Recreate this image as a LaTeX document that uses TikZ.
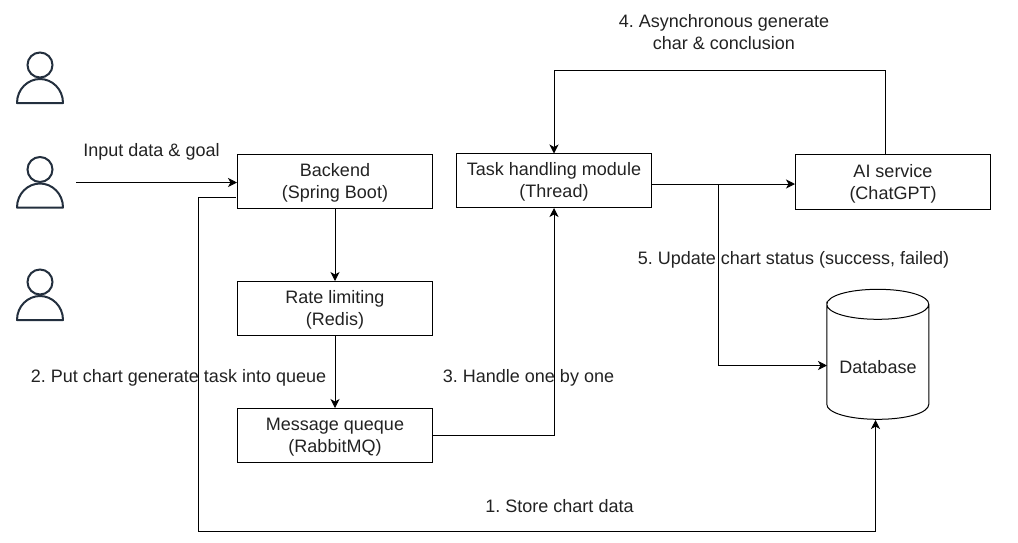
\documentclass[tikz,border=0pt]{standalone}
\usepackage{fontspec}
\setmainfont{Liberation Sans}
\usetikzlibrary{arrows.meta}
\definecolor{personcol}{HTML}{232F3E}
\definecolor{textcol}{HTML}{222222}
\newcommand{\txtfont}{\frenchspacing\fontsize{18}{22}\selectfont}
\newcommand{\lift}{\rule{0pt}{16pt}}
\tikzset{
  box/.style={draw=black,line width=1pt,minimum width=195pt,minimum height=54pt,align=center,inner sep=0pt,text=textcol,font=\txtfont},
  lbl/.style={align=center,inner sep=0pt,text=textcol,font=\txtfont},
  conn/.style={draw=black,line width=1pt,-{Stealth[length=9pt,width=9pt,inset=2.5pt]}},
  personicon/.pic={
    \draw[personcol,line width=2pt] (0,-38) circle (12.5);
    \draw[personcol,line width=2pt,line join=round] (-23,0) .. controls (-23,-14) and (-12,-24) .. (0,-24) .. controls (12,-24) and (23,-14) .. (23,0) -- cycle;
  }
}
\begin{document}
\begin{tikzpicture}[x=1pt,y=-1pt]
\useasboundingbox (0,0) rectangle (1018,542);
% users
\pic at (40,103) {personicon};
\pic at (40,207.5) {personicon};
\pic at (40,320) {personicon};
% boxes
\node[box] (backend) at (335,181.5) {\lift Backend\\(Spring Boot)};
\node[box] (rate) at (335,308.5) {\lift Rate limiting\\(Redis)};
\node[box] (mq) at (335,435.5) {\lift Message queque\\(RabbitMQ)};
\node[box] (task) at (554,180.5) {\lift Task handling module\\(Thread)};
\node[box,minimum height=55pt] (ai) at (893,182) {\lift AI service\\(ChatGPT)};
% database
\node[lbl,minimum width=102pt,minimum height=130pt] (db) at (878,354.5) {};
\node[lbl] (dbtext) at (878,367) {Database};
\begin{scope}[shift={(db.north west)}]
\draw[line width=1pt] (0,15)
  .. controls (0,6.5) and (22,0) .. (51,0)
  .. controls (80,0) and (102,6.5) .. (102,15)
  .. controls (102,23.5) and (80,30) .. (51,30)
  .. controls (22,30) and (0,23.5) .. (0,15)
  -- (0,115)
  .. controls (0,123.5) and (22,130) .. (51,130)
  .. controls (80,130) and (102,123.5) .. (102,115)
  -- (102,15);
\end{scope}
% coordinates
\coordinate (userout) at (76,182.5);
\coordinate (backin) at (backend.west |- userout);
\coordinate (backout) at (236,197.5);
\coordinate (dbin) at (875.5,420);
\coordinate (branch) at (718,184);
\coordinate (dbleft) at (827,365.5);
\coordinate (aitop) at (885.5,155);
\coordinate (tasktop) at (554,153.5);
% connectors
\draw[conn] (userout) -- (backin);
\draw[conn] (backout) -- (198.5,197.5) -- (198.5,531) -- (875.5,531) -- (dbin);
\draw[conn] (backend.south) -- (rate.north);
\draw[conn] (rate.south) -- (mq.north);
\draw[conn] (mq.east) -- (554,435.5) -- (task.south);
\draw[conn] (task.east |- branch) -- (ai.west |- branch);
\draw[conn] (branch) -- (718,365.5) -- (dbleft);
\draw[conn] (aitop) -- (885.5,70.5) -- (554,70.5) -- (tasktop);
% labels
\node[lbl] (l4) at (724,32) {4. Asynchronous generate\\char \& conclusion};
\node[lbl] (l0) at (151.5,152) {Input data \& goal};
\node[lbl] (l2) at (178.5,378) {2. Put chart generate task into queue};
\node[lbl] (l3) at (528.5,378) {3. Handle one by one};
\node[lbl] (l5) at (793.5,260) {5. Update chart status (success, failed)};
\node[lbl] (l1) at (559.5,506.5) {1. Store chart data};
\end{tikzpicture}
\end{document}
